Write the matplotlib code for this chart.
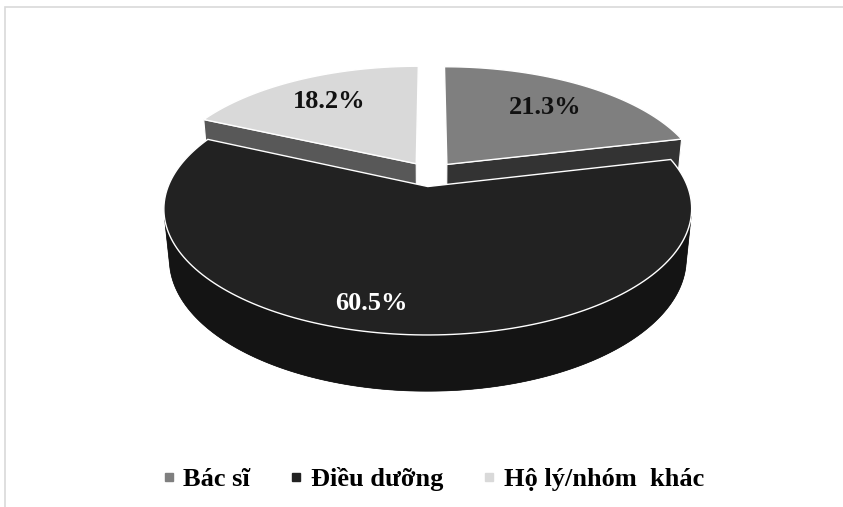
import numpy as np
import matplotlib
matplotlib.use("Agg")
import matplotlib.pyplot as plt
from matplotlib.patches import Polygon, Rectangle
from matplotlib.lines import Line2D

plt.rcParams['font.family'] = ['Liberation Serif', 'DejaVu Serif']

# datos del grafico
categories = ['Bác sĩ', 'Điều dưỡng', 'Hộ lý/nhóm  khác']
values = [21.3, 60.5, 18.2]
labels = ['21.3%', '60.5%', '18.2%']

top_colors = ['#7f7f7f', '#222222', '#d9d9d9']
side_colors = ['#333333', '#141414', '#585858']
label_colors = ['#111111', 'white', '#111111']
# posicion de la etiqueta: fraccion del radio, giro en grados
label_r = [0.7, 0.84, 0.72]
label_rot = [0, 7, 0]

# geometria (pixeles)
CX, CY = 430.5, 174
R = 255
ELEV = np.radians(27.5)
DIST = 5.1
H = 0.22
EXPLODE = 0.105


def project(X, Y, Z):
    depth = DIST + Y * np.cos(ELEV) - Z * np.sin(ELEV)
    k = DIST / depth
    px = CX + R * X * k
    py = CY - R * (Y * np.sin(ELEV) + Z * np.cos(ELEV)) * k
    return np.column_stack([px, py])


def arc(ox, oy, t0, t1, z, n=160):
    t = np.radians(np.linspace(t0, t1, n))
    return ox + np.sin(t), oy + np.cos(t), np.full(n, z)


fig = plt.figure(figsize=(8.43, 5.07), dpi=100)
ax = fig.add_axes([0, 0, 1, 1])
ax.set_xlim(0, 843)
ax.set_ylim(507, 0)
ax.axis('off')

# borde del area del grafico
fig.patches.append(Rectangle((5 / 843, -0.1), 1.2, (507 - 7) / 507 + 0.1,
                             transform=fig.transFigure, fill=False,
                             edgecolor='#d9d9d9', linewidth=1.2))

total = sum(values)
bounds = np.concatenate([[0], np.cumsum(values) / total * 360])

slices = []
for i in range(len(values)):
    t0, t1 = bounds[i], bounds[i + 1]
    mid = np.radians((t0 + t1) / 2)
    ox, oy = EXPLODE * np.sin(mid), EXPLODE * np.cos(mid)
    slices.append((oy, i, t0, t1, ox))

# degradado horizontal para las paredes
grad = np.linspace(1.25, 0.6, 256).reshape(1, -1)

# pintar de atras hacia adelante
for oy, i, t0, t1, ox in sorted(slices, reverse=True):
    # caras radiales (solo las que miran al frente)
    for t, sgn in ((t0, -1), (t1, 1)):
        tr = np.radians(t)
        ny = -sgn * np.sin(tr)
        if ny > -0.05:
            continue
        xs = np.array([ox, ox + np.sin(tr), ox + np.sin(tr), ox])
        ys = np.array([oy, oy + np.cos(tr), oy + np.cos(tr), oy])
        zs = np.array([0, 0, -H, -H])
        ax.add_patch(Polygon(project(xs, ys, zs), closed=True,
                             facecolor=side_colors[i], edgecolor='white', linewidth=0.8))
    # pared exterior: solo la parte que mira a la camara
    tt = np.linspace(t0, t1, 400)
    tr = np.radians(tt)
    vis = (-(ox * np.sin(tr) + oy * np.cos(tr)) - 1
           - DIST * np.cos(ELEV) * np.cos(tr)) > 0
    if vis.any():
        a, b = tt[vis].min(), tt[vis].max()
        xa, ya, za = arc(ox, oy, a, b, 0)
        xb, yb, zb = arc(ox, oy, b, a, -H)
        pts = project(np.r_[xa, xb], np.r_[ya, yb], np.r_[za, zb])
        wall = Polygon(pts, closed=True, facecolor=side_colors[i],
                       edgecolor=side_colors[i], linewidth=0.5)
        ax.add_patch(wall)
        c = np.array(matplotlib.colors.to_rgb(side_colors[i]))
        img = np.clip(grad[..., None] * c[None, None, :], 0, 1)
        im = ax.imshow(img, extent=(pts[:, 0].min(), pts[:, 0].max(),
                                    pts[:, 1].max(), pts[:, 1].min()),
                       aspect='auto', interpolation='bilinear')
        im.set_clip_path(wall)
    # cara superior
    xa, ya, za = arc(ox, oy, t0, t1, 0)
    pts = project(np.r_[ox, xa], np.r_[oy, ya], np.r_[0, za])
    ax.add_patch(Polygon(pts, closed=True, facecolor=top_colors[i],
                         edgecolor='white', linewidth=1.0))
    # etiqueta
    lm = np.radians((t0 + t1) / 2 + label_rot[i])
    p = project(np.array([ox + label_r[i] * np.sin(lm)]),
                np.array([oy + label_r[i] * np.cos(lm)]), np.array([0.0]))[0]
    ax.text(p[0], p[1], labels[i], ha='center', va='center', fontsize=19,
            fontweight='bold', color=label_colors[i])

ax.set_xlim(0, 843)
ax.set_ylim(507, 0)

handles = [Line2D([], [], marker='s', linestyle='none', markersize=5.8,
                  markerfacecolor=c, markeredgecolor=c) for c in top_colors]
ax.legend(handles, categories, loc='center', bbox_to_anchor=(0.514, 0.055),
          ncol=3, frameon=False, prop={'weight': 'bold', 'size': 19},
          handlelength=0.5, handletextpad=0.3, columnspacing=1.5)

fig.savefig('out.png', dpi=100)
